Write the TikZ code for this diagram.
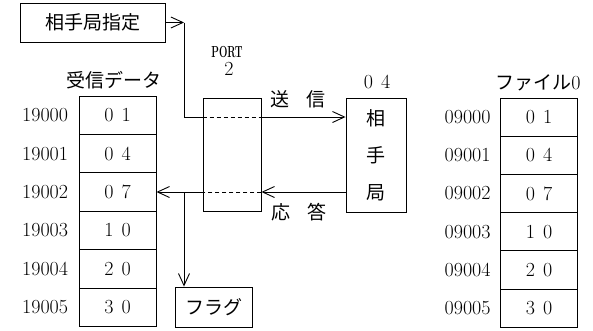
\documentclass[tikz,border=0pt]{standalone}
\usepackage{fontspec}
\usepackage{tikz}
\usetikzlibrary{arrows.meta}
\newfontfamily\jpfont{Noto Sans CJK JP}

\begin{document}
\begin{tikzpicture}[x=1pt, y=-1pt, line width=0.9pt,
    >={Straight Barb[length=12pt, width=11pt]},
    cell/.style={draw, minimum width=77pt, minimum height=38.4pt, inner sep=0pt, font=\fontsize{20}{20}\selectfont},
    addr/.style={anchor=east, inner sep=0pt, font=\fontsize{20}{20}\selectfont},
    jp/.style={font=\fontsize{19}{19}\selectfont\jpfont},
    dsh/.style={dash pattern=on 4pt off 3pt}]
    \useasboundingbox (0,0) rectangle (593,330);

    % memory
    \foreach \a/\b [count=\i from 0] in {0/1,0/4,0/7,1/0,2/0,3/0} {
        \node[cell] (L\i) at (117.5, 115.2+38.4*\i) {\a\hspace{8pt}\b};
        \node[addr] (La\i) at ([xshift=-10pt]L\i.west) {1900\i};
        \node[cell, minimum height=38.2pt] (R\i) at (539, 117.1+38.2*\i) {\a\hspace{8pt}\b};
        \node[addr] (Ra\i) at ([xshift=-9pt]R\i.west) {0900\i};
    }
    \node[jp] (recv) at (114,80) {受信データ};
    \node[jp] (file) at (538,83) {ファイル{\rmfamily\fontsize{20}{20}\selectfont 0}};

    \node[draw, jp, minimum width=145pt, minimum height=39pt] (dest) at (92.5,22.5) {相手局指定};
    \node[draw, minimum width=58pt, minimum height=113pt] (port) at (232,154.5) {};
    \node[inner sep=0.5pt, font=\bfseries\fontsize{16}{16}\selectfont] (portname) at (227,52) {\scalebox{0.62}[1]{PORT}};
    \node[inner sep=0.5pt, font=\fontsize{20}{20}\selectfont] (portno) at (229,69) {2};
    \node[draw, align=center, minimum width=60pt, minimum height=114pt,
        font=\fontsize{19}{37}\selectfont\jpfont] (peer) at (376,155) {相\\手\\局};
    \node[font=\fontsize{20}{20}\selectfont] (peerno) at (377,82) {0\hspace{8pt}4};
    \node[jp] (send) at (298,99) {送\hspace{18pt}信};
    \node[jp] (resp) at (299,212) {応\hspace{18pt}答};
    \node[draw, jp, minimum width=77pt, minimum height=40pt] (flag) at (213.5,307) {フラグ};

    % lines
    \coordinate (turn) at (184,22.5);
    \coordinate (snd) at (184,117);
    \coordinate (rcv) at (L2.east -| turn);
    \draw[->] (dest.east) -- (turn);
    \draw (turn) -- (snd) -- (snd -| port.west);
    \draw[dsh] (snd -| port.west) -- (snd -| port.east);
    \draw[->] (snd -| port.east) -- (snd -| peer.west);
    \draw[->] (rcv -| peer.west) -- (rcv -| port.east);
    \draw[dsh] (rcv -| port.east) -- (rcv -| port.west);
    \draw[->] (rcv -| port.west) -- (L2.east);
    \draw[->] (rcv) -- (rcv |- flag.north);
\end{tikzpicture}
\end{document}
